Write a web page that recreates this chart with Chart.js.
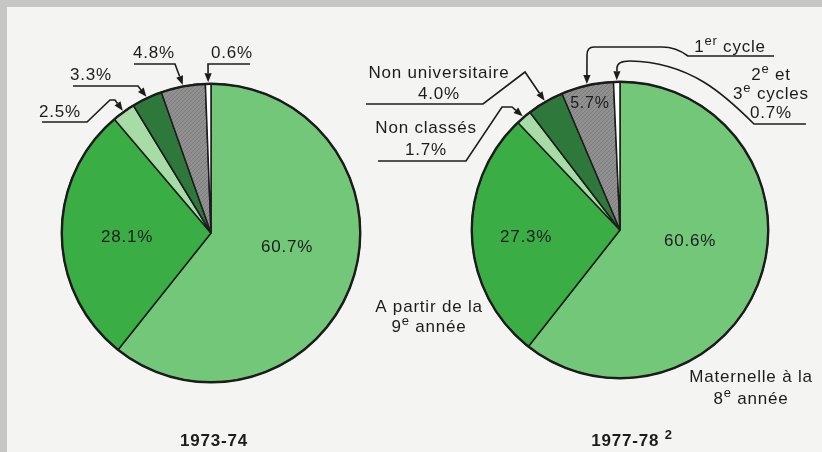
<!DOCTYPE html>
<html>
<head>
<meta charset="utf-8">
<script src="https://cdn.jsdelivr.net/npm/chart.js@4"></script>
<style>
    body { margin: 0; background: #c6c6c4; }
    #frame { position: relative; width: 822px; height: 452px; background: #c6c6c4; overflow: hidden; }
    #panel { position: absolute; left: 7px; top: 7px; width: 815px; height: 445px; background: #f4f4f2; }
    canvas { position: absolute; left: 0; top: 0; }
</style>
</head>
<body>
<div id="frame">
    <div id="panel"></div>
    <canvas id="pie1973" width="822" height="452"></canvas>
    <canvas id="pie1977" width="822" height="452"></canvas>
</div>
<script>
// ==========================================
// DATA
// ==========================================
const categories = [
    'Maternelle à la 8e année',
    'A partir de la 9e année',
    'Non classés',
    'Non universitaire',
    '1er cycle',
    '2e et 3e cycles'
];
const shares1973 = [60.7, 28.1, 2.5, 3.3, 4.8, 0.6];
const shares1977 = [60.6, 27.3, 1.7, 4.0, 5.7, 0.7];
const periods = ['1973-74', '1977-78 ^2'];

const FONT = '"Liberation Sans", Arial, sans-serif';
const INK = '#1c1c1c';

// ==========================================
// HELPERS
// ==========================================
function pct(v) {
    return v.toFixed(1) + '%';
}

function hatchPattern() {
    const c = document.createElement('canvas');
    c.width = 4;
    c.height = 4;
    const g = c.getContext('2d');
    g.fillStyle = '#919191';
    g.fillRect(0, 0, 4, 4);
    g.strokeStyle = '#7b7b7b';
    g.lineWidth = 1;
    g.beginPath();
    g.moveTo(0, 4);
    g.lineTo(4, 0);
    g.stroke();
    return g.createPattern(c, 'repeat');
}

// "2^e et" -> "2", superscript "e", " et"
function parseRich(str) {
    const parts = [];
    const re = /\^(\S+)/g;
    let last = 0, m;
    while ((m = re.exec(str))) {
        if (m.index > last) parts.push({ t: str.slice(last, m.index) });
        parts.push({ t: m[1], sup: true });
        last = re.lastIndex;
    }
    if (last < str.length) parts.push({ t: str.slice(last) });
    return parts;
}

function drawRich(ctx, str, x, y, size, weight) {
    const parts = parseRich(str);
    const fontFor = p => `${weight || 'normal'} ${p.sup ? Math.round(size * 0.74) : size}px ${FONT}`;
    ctx.letterSpacing = '0.8px';
    let w = 0;
    parts.forEach(p => {
        ctx.font = fontFor(p);
        p.w = ctx.measureText(p.t).width;
        w += p.w;
    });
    let cx = x - w / 2;
    ctx.textAlign = 'left';
    ctx.textBaseline = 'alphabetic';
    parts.forEach(p => {
        ctx.font = fontFor(p);
        ctx.fillText(p.t, cx, p.sup ? y - size * 0.4 : y);
        cx += p.w;
    });
}

function drawBlock(ctx, lines, x, y, lh, size, weight, value) {
    lines.forEach((line, i) => {
        drawRich(ctx, line.replace('{v}', value), x, y + i * lh, size, weight);
    });
}

function tracePath(ctx, path) {
    ctx.moveTo(path[0][0], path[0][1]);
    path.slice(1).forEach(p => {
        if (p.q) ctx.quadraticCurveTo(p.q[0], p.q[1], p.q[2], p.q[3]);
        else if (p.c) ctx.bezierCurveTo(p.c[0], p.c[1], p.c[2], p.c[3], p.c[4], p.c[5]);
        else ctx.lineTo(p[0], p[1]);
    });
}

function lastPoint(path) {
    const p = path[path.length - 1];
    if (p.q) return [p.q[2], p.q[3]];
    if (p.c) return [p.c[4], p.c[5]];
    return p;
}

// callouts, labels, outer ring - layout is kept here, values come from the chart
function makeAnnotations(layout) {
    return {
        id: 'annotations',
        afterDatasetsDraw(chart) {
            const ctx = chart.ctx;
            const meta = chart.getDatasetMeta(0);
            const values = chart.data.datasets[0].data;
            const first = meta.data[0];

            ctx.save();
            ctx.strokeStyle = INK;
            ctx.fillStyle = INK;

            // heavier outline around the whole pie
            ctx.lineWidth = 2.4;
            ctx.beginPath();
            ctx.arc(first.x, first.y, first.outerRadius, 0, Math.PI * 2);
            ctx.stroke();

            layout.inside.forEach(l => {
                drawRich(ctx, pct(values[l.index]), l.x, l.y, l.size || 17);
            });

            layout.pointers.forEach(p => {
                const arc = meta.data[p.index];
                const mid = (arc.startAngle + arc.endAngle) / 2;
                const tip = [
                    arc.x + Math.cos(mid) * (arc.outerRadius + 1.5),
                    arc.y + Math.sin(mid) * (arc.outerRadius + 1.5)
                ];
                const from = lastPoint(p.path);
                const ang = Math.atan2(tip[1] - from[1], tip[0] - from[0]);
                const len = 9, half = 3.6;
                const base = [tip[0] - Math.cos(ang) * len, tip[1] - Math.sin(ang) * len];

                ctx.lineWidth = 1.6;
                ctx.beginPath();
                tracePath(ctx, p.path);
                ctx.lineTo(base[0], base[1]);
                ctx.stroke();

                ctx.beginPath();
                ctx.moveTo(tip[0], tip[1]);
                ctx.lineTo(base[0] + Math.sin(ang) * half, base[1] - Math.cos(ang) * half);
                ctx.lineTo(base[0] - Math.sin(ang) * half, base[1] + Math.cos(ang) * half);
                ctx.closePath();
                ctx.fill();

                drawBlock(ctx, p.lines, p.x, p.y, p.lh || 20, 17, 'normal', pct(values[p.index]));
            });

            layout.notes.forEach(n => {
                drawBlock(ctx, n.lines, n.x, n.y, n.lh || 20, n.size || 17, n.weight, '');
            });
            ctx.restore();
        }
    };
}

// ==========================================
// LAYOUTS
// ==========================================
const layout1973 = {
    padding: { left: 61, right: 461, top: 83, bottom: 69 },
    inside: [
        { index: 1, x: 127, y: 242 },
        { index: 0, x: 287, y: 252 }
    ],
    pointers: [
        { index: 2, lines: ['{v}'], x: 60, y: 117, path: [[42, 122], [87, 122], [110, 100], [115, 100]] },
        { index: 3, lines: ['{v}'], x: 91, y: 80, path: [[73, 86], [138, 86]] },
        { index: 4, lines: ['{v}'], x: 154, y: 58, path: [[134, 64], [175, 64]] },
        { index: 5, lines: ['{v}'], x: 232, y: 58, path: [[250, 64], [208, 64]] }
    ],
    notes: [
        { lines: [periods[0]], x: 214, y: 446, size: 17, weight: 'bold' }
    ]
};

const layout1977 = {
    padding: { left: 471, right: 53, top: 81, bottom: 73 },
    inside: [
        { index: 1, x: 526, y: 242 },
        { index: 0, x: 690, y: 246 },
        { index: 4, x: 590, y: 108, size: 16 }
    ],
    pointers: [
        { index: 3, lines: ['Non universitaire', '{v}'], x: 439, y: 78, lh: 21,
          path: [[366, 104], [483, 104], [525, 72]] },
        { index: 2, lines: ['Non classés', '{v}'], x: 426, y: 133, lh: 22,
          path: [[378, 161], [466, 161], [502, 107], [512, 107]] },
        { index: 4, lines: ['1^er cycle'], x: 730, y: 52,
          path: [[774, 56], [688, 56], { q: [676, 47, 662, 47] }, [594, 47], { q: [587, 47, 587, 55] }] },
        { index: 5, lines: ['2^e et', '3^e cycles', '{v}'], x: 771, y: 80, lh: 19,
          path: [[806, 124], [754, 124], { c: [725, 95, 690, 62, 630, 61] }, { q: [617, 61, 617, 68] }] }
    ],
    notes: [
        { lines: ['A partir de la', '9^e année'], x: 429, y: 312, lh: 20 },
        { lines: ['Maternelle à la', '8^e année'], x: 751, y: 382, lh: 22 },
        { lines: [periods[1]], x: 632, y: 446, size: 17, weight: 'bold' }
    ]
};

// ==========================================
// CHARTS
// ==========================================
function createPie(canvasId, shares, layout) {
    const colors = ['#72c878', '#3bad45', '#a8dca7', '#2f783c', hatchPattern(), '#ffffff'];
    return new Chart(document.getElementById(canvasId), {
        type: 'pie',
        data: {
            labels: categories,
            datasets: [{
                data: shares,
                backgroundColor: colors,
                borderColor: INK,
                borderWidth: 1.5
            }]
        },
        options: {
            responsive: false,
            animation: false,
            events: [],
            layout: { padding: layout.padding },
            plugins: {
                legend: { display: false },
                tooltip: { enabled: false }
            }
        },
        plugins: [makeAnnotations(layout)]
    });
}

createPie('pie1973', shares1973, layout1973);
createPie('pie1977', shares1977, layout1977);
</script>
</body>
</html>
